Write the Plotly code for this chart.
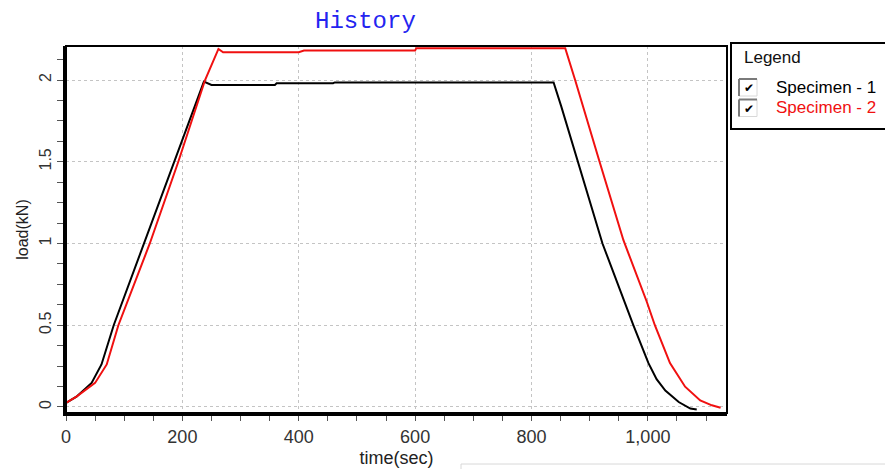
import plotly.graph_objects as go

# ---------------- data ----------------
series_names = ["Specimen - 1", "Specimen - 2"]
series_colors = ["#000000", "#f01010"]

time_1 = [0, 18, 44, 61, 82, 134, 187, 207, 237, 250, 359, 362, 459, 462,
          838, 851, 880, 922, 975, 1001, 1015, 1030, 1053, 1073, 1084]
load_1 = [0.025, 0.063, 0.147, 0.26, 0.5, 1.0, 1.5, 1.69, 1.99, 1.97, 1.97, 1.98, 1.98, 1.985,
          1.985, 1.84, 1.5, 1.0, 0.5, 0.268, 0.17, 0.10, 0.03, -0.01, -0.015]

time_2 = [0, 18, 50, 70, 90, 144, 193, 210, 239, 262, 270, 400, 409, 600, 602,
          858, 875, 917, 958, 998, 1012, 1038, 1064, 1090, 1110, 1125]
load_2 = [0.025, 0.063, 0.147, 0.26, 0.5, 1.0, 1.5, 1.69, 2.0, 2.19, 2.17, 2.17, 2.18, 2.18, 2.195,
          2.195, 2.0, 1.5, 1.02, 0.645, 0.5, 0.268, 0.124, 0.04, 0.01, -0.005]

x_tickvals = [0, 200, 400, 600, 800, 1000]
y_tickvals = [0, 0.5, 1, 1.5, 2]
y_ticktext = ["0", "0.5", "1", "1.5", "2"]

title_text = "History"
x_title = "time(sec)"
y_title = "load(kN)"
legend_title = "Legend"

# ---------------- layout geometry ----------------
W, H = 885, 469
L, R, T, B = 66, 158, 46, 56
PW, PH = W - L - R, H - T - B


def px(x):
    return (x - L) / PW


def py(y):
    return (H - B - y) / PH


fig = go.Figure()
all_t = [time_1, time_2]
all_l = [load_1, load_2]
for name, col, tt, ll in zip(series_names, series_colors, all_t, all_l):
    fig.add_trace(go.Scatter(x=tt, y=ll, mode="lines", name=name,
                             line=dict(color=col, width=2), showlegend=False))

font_main = "Liberation Sans, Arial, sans-serif"

fig.update_layout(
    width=W, height=H,
    margin=dict(l=L, r=R, t=T, b=B, autoexpand=False),
    paper_bgcolor="white", plot_bgcolor="white",
    showlegend=False,
)

fig.update_xaxes(
    range=[0, 1136], tickvals=x_tickvals, tickformat=",d", automargin=False,
    showline=True, linecolor="black", linewidth=3,
    ticks="outside", ticklen=5, tickwidth=1, tickcolor="#555",
    minor=dict(dtick=50, ticks="outside", ticklen=5, tickwidth=1, tickcolor="#555", showgrid=False),
    showgrid=True, gridcolor="#c4c4c4", griddash="dot", gridwidth=1,
    zeroline=False,
    tickfont=dict(family=font_main, size=18, color="#333"),
    title=dict(text=x_title, font=dict(family=font_main, size=18, color="#222"), standoff=6),
)
fig.update_yaxes(
    range=[-0.037, 2.208], tickvals=y_tickvals, ticktext=y_ticktext, tickangle=-90, automargin=False,
    showline=True, linecolor="black", linewidth=3,
    ticks="outside", ticklen=6, tickwidth=1, tickcolor="#555",
    minor=dict(dtick=0.125, ticks="outside", ticklen=6, tickwidth=1, tickcolor="#555", showgrid=False),
    showgrid=True, gridcolor="#c4c4c4", griddash="dot", gridwidth=1,
    zeroline=False,
    tickfont=dict(family=font_main, size=16, color="#333"),
    title=dict(text=y_title, font=dict(family=font_main, size=16, color="#222"), standoff=4),
)

shapes = []
annotations = []
# plot frame top/right
shapes.append(dict(type="rect", xref="paper", yref="paper", x0=0, x1=1, y0=0, y1=1,
                   line=dict(color="black", width=2), layer="above"))
# legend box
shapes.append(dict(type="rect", xref="paper", yref="paper",
                   x0=px(731), x1=px(895), y0=py(129), y1=py(43),
                   line=dict(color="black", width=2)))
# faint box at bottom
shapes.append(dict(type="rect", xref="paper", yref="paper",
                   x0=px(461), x1=px(900), y0=py(480), y1=py(464),
                   line=dict(color="#d8d8d8", width=1)))

annotations.append(dict(text=title_text, xref="paper", yref="paper", x=px(365), y=py(22),
                        showarrow=False, xanchor="center", yanchor="middle",
                        font=dict(family="Liberation Mono, monospace", size=24, color="#2424f0")))
annotations.append(dict(text=legend_title, xref="paper", yref="paper", x=px(742), y=py(57),
                        showarrow=False, xanchor="left", yanchor="middle",
                        font=dict(family=font_main, size=17, color="#111")))

for i, (name, col) in enumerate(zip(series_names, series_colors)):
    cy = 87 + i * 20.5
    # checkbox (inset look)
    shapes.append(dict(type="rect", xref="paper", yref="paper",
                       x0=px(739), x1=px(757), y0=py(cy + 9), y1=py(cy - 8),
                       line=dict(color="#d8d8d8", width=1), fillcolor="white"))
    shapes.append(dict(type="line", xref="paper", yref="paper",
                       x0=px(739), x1=px(739), y0=py(cy + 9), y1=py(cy - 8),
                       line=dict(color="#7a7a7a", width=2)))
    shapes.append(dict(type="line", xref="paper", yref="paper",
                       x0=px(739), x1=px(757), y0=py(cy - 8), y1=py(cy - 8),
                       line=dict(color="#7a7a7a", width=2)))
    annotations.append(dict(text="\u2714", xref="paper", yref="paper", x=px(749), y=py(cy + 1),
                            showarrow=False, xanchor="center", yanchor="middle",
                            font=dict(family="DejaVu Sans", size=12, color="black")))
    annotations.append(dict(text=name, xref="paper", yref="paper", x=px(774), y=py(cy),
                            showarrow=False, xanchor="left", yanchor="middle",
                            font=dict(family=font_main, size=17, color=col)))

fig.update_layout(shapes=shapes, annotations=annotations)
fig.write_html(
    "out.html",
    config={"displayModeBar": False},
    post_script="document.body.style.margin='0';document.body.style.overflow='hidden';",
)
